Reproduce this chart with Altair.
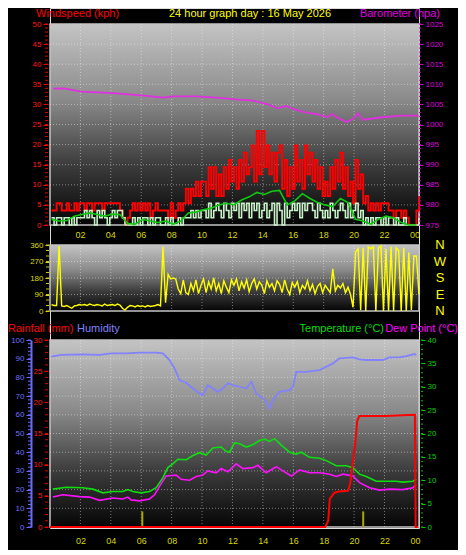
import altair as alt
import pandas as pd

# ---------------- data ----------------
TITLE = "24 hour graph day : 16 May 2026"

# 10-minute wind readings starting 00:06 (kph / degrees)
gust_kph = [
    3.6, 3.6, 5.4, 5.4, 3.6, 3.6,
    5.4, 3.6, 3.6, 5.4, 3.6, 5.4,
    5.4, 3.6, 5.4, 5.4, 3.6, 5.4,
    5.4, 5.4, 3.6, 5.4, 5.4, 5.4,
    5.4, 5.4, 5.4, 3.6, 1.8, 0.0,
    1.8, 3.6, 5.4, 3.6, 5.4, 3.6,
    5.4, 3.6, 5.4, 1.8, 3.6, 5.4,
    3.6, 3.6, 3.6, 3.6, 1.8, 5.4,
    1.8, 3.6, 5.4, 3.6, 5.4, 9.0,
    5.4, 9.0, 7.2, 10.8, 7.2, 10.8,
    10.8, 7.2, 14.4, 9.0, 14.4, 7.2,
    12.6, 7.2, 14.4, 9.0, 16.2, 10.8,
    14.4, 9.0, 16.2, 10.8, 18.0, 12.6,
    14.4, 19.8, 10.8, 23.4, 12.6, 23.4,
    14.4, 19.8, 12.6, 18.0, 10.8, 18.0,
    19.8, 9.0, 16.2, 7.2, 14.4, 9.0,
    19.8, 10.8, 16.2, 9.0, 19.8, 12.6,
    18.0, 10.8, 16.2, 9.0, 14.4, 7.2,
    10.8, 7.2, 14.4, 9.0, 16.2, 10.8,
    18.0, 9.0, 14.4, 7.2, 10.8, 5.4,
    16.2, 9.0, 12.6, 5.4, 7.2, 3.6,
    5.4, 3.6, 5.4, 3.6, 5.4, 5.4,
    5.4, 3.6, 3.6, 1.8, 3.6, 3.6,
    1.8, 3.6, 1.8, 0.0, 0.0, 0.0,
    3.6, 7.2,
]
speed_kph = [
    1.8, 0.0, 1.8, 1.8, 0.0, 1.8,
    1.8, 0.0, 1.8, 0.0, 1.8, 1.8,
    1.8, 3.6, 1.8, 3.6, 1.8, 0.0,
    3.6, 1.8, 3.6, 1.8, 0.0, 1.8,
    3.6, 1.8, 3.6, 3.6, 1.8, 0.0,
    0.0, 0.0, 1.8, 0.0, 1.8, 0.0,
    1.8, 1.8, 0.0, 1.8, 0.0, 1.8,
    1.8, 0.0, 0.0, 1.8, 0.0, 1.8,
    0.0, 0.0, 1.8, 0.0, 1.8, 1.8,
    1.8, 3.6, 1.8, 3.6, 1.8, 3.6,
    3.6, 1.8, 5.4, 1.8, 3.6, 5.4,
    3.6, 1.8, 5.4, 3.6, 1.8, 5.4,
    3.6, 5.4, 1.8, 5.4, 3.6, 5.4,
    1.8, 5.4, 3.6, 5.4, 1.8, 3.6,
    5.4, 1.8, 3.6, 5.4, 0.0, 5.4,
    3.6, 0.0, 5.4, 1.8, 3.6, 5.4,
    3.6, 5.4, 1.8, 5.4, 3.6, 5.4,
    5.4, 3.6, 1.8, 5.4, 3.6, 1.8,
    3.6, 1.8, 5.4, 3.6, 1.8, 3.6,
    5.4, 3.6, 1.8, 5.4, 1.8, 3.6,
    5.4, 1.8, 3.6, 0.0, 1.8, 0.0,
    1.8, 0.0, 1.8, 1.8, 0.0, 1.8,
    0.0, 1.8, 1.8, 0.0, 1.8, 0.0,
    0.0, 1.8, 0.0, 0.0, 0.0, 0.0,
    0.0, 1.8,
]
wind_dir = [
    35, 30, 30, 355, 28, 25,
    30, 22, 15, 28, 30, 35,
    32, 35, 30, 38, 33, 30,
    35, 32, 28, 38, 30, 33,
    35, 30, 38, 32, 15, 5,
    20, 30, 28, 22, 30, 25,
    28, 22, 30, 25, 27, 30,
    35, 28, 350, 45, 200, 175,
    180, 175, 120, 95, 170, 100,
    90, 150, 110, 170, 95, 140,
    175, 100, 160, 120, 180, 110,
    150, 95, 165, 130, 100, 170,
    140, 175, 110, 160, 125, 170,
    105, 150, 175, 120, 160, 140,
    95, 165, 130, 150, 110, 165,
    145, 100, 170, 120, 90, 155,
    130, 160, 100, 140, 120, 165,
    110, 145, 95, 135, 150, 100,
    140, 120, 100, 230, 110, 140,
    125, 150, 100, 130, 90, 20,
    320, 340, 5, 345, 0, 350,
    340, 350, 0, 345, 355, 0,
    340, 0, 350, 0, 345, 330,
    0, 345, 0, 320, 5, 300,
    300, 90,
]
# 30-minute average wind speed starting 00:06
avg_kph = [
    1.4, 1.0, 1.1, 2.2, 2.6, 3.0, 2.6, 2.2, 2.7, 2.6,
    0.4, 0.2, 1.4, 1.0, 0.6, 1.0, 0.2, 1.0, 3.0, 3.2,
    3.8, 4.2, 5.0, 5.4, 5.0, 6.2, 7.0, 8.1, 7.6, 8.4,
    8.6, 5.0, 6.0, 7.8, 6.6, 5.6, 5.0, 4.6, 6.6, 5.6,
    1.4, 1.0, 0.2, 1.4, 2.2, 1.8, 0.6, 0.0, 0.0,
]

baro_t = [0.21, 0.90, 2.09, 4.13, 6.17, 7.46, 8.11, 9.61, 11.12, 12.41,
          13.27, 14.34, 14.99, 15.53, 16.06, 16.71, 17.57, 18.22, 18.54, 18.86,
          19.50, 19.94, 20.26, 20.58, 21.87, 23.16, 24.24]
baro_hpa = [1008.9, 1009.0, 1008.2, 1007.8, 1007.2, 1006.7, 1007.0, 1007.0, 1006.6, 1006.2,
            1006.0, 1005.0, 1004.0, 1004.6, 1003.8, 1003.1, 1002.6, 1001.8, 1002.6, 1001.8,
            1000.6, 1001.4, 1002.8, 1001.2, 1001.8, 1002.2, 1002.2]

hum_t = [0.08, 0.73, 2.16, 3.26, 4.02, 5.01, 5.89, 6.98, 7.42, 7.86,
         8.19, 8.52, 8.96, 9.40, 9.84, 10.05, 10.38, 10.71, 11.04, 11.37,
         11.70, 12.03, 12.47, 12.91, 13.24, 13.56, 14.00, 14.22, 14.44, 14.66,
         15.10, 15.76, 15.98, 16.20, 16.85, 17.73, 18.17, 18.61, 19.04, 19.92,
         20.36, 20.80, 21.89, 22.33, 22.99, 23.43, 23.98, 24.09]
hum_pct = [91.1, 92.0, 92.3, 92.0, 92.9, 92.9, 93.2, 93.2, 92.9, 89.3,
           84.8, 78.6, 77.1, 74.1, 71.4, 70.5, 75.9, 74.1, 72.3, 74.1,
           76.8, 75.9, 75.0, 74.1, 77.7, 71.4, 68.8, 67.0, 63.4, 67.9,
           72.3, 73.2, 75.0, 83.0, 83.0, 83.9, 85.7, 87.5, 90.2, 90.7,
           89.6, 89.3, 89.3, 90.7, 90.7, 91.4, 92.5, 92.0]

temp_t = [0.19, 1.06, 2.16, 2.82, 3.48, 4.13, 4.79, 5.12, 5.45, 6.00,
          6.55, 6.98, 7.42, 7.75, 8.08, 8.41, 8.96, 9.40, 9.84, 10.27,
          10.71, 11.26, 11.59, 11.81, 12.14, 12.47, 12.91, 13.34, 13.78, 14.11,
          14.44, 14.77, 15.21, 15.76, 16.20, 16.53, 17.07, 17.73, 18.17, 18.83,
          19.49, 19.92, 20.36, 20.80, 21.46, 22.11, 22.77, 23.21, 23.87, 24.09]
temp_c = [8.1, 8.5, 8.4, 8.1, 7.3, 7.6, 7.6, 8.0, 7.6, 7.3,
          7.6, 8.4, 10.5, 12.7, 13.5, 14.5, 14.4, 15.3, 15.9, 15.4,
          16.9, 17.1, 16.2, 16.0, 18.0, 17.8, 17.1, 17.6, 18.5, 18.8,
          18.3, 18.9, 17.5, 16.0, 15.6, 16.0, 14.9, 14.7, 14.2, 13.1,
          13.1, 12.7, 11.3, 10.8, 9.8, 9.8, 9.8, 9.6, 9.8, 10.2]

dew_t = [0.19, 0.84, 1.94, 2.60, 3.26, 4.13, 4.79, 5.12, 5.34, 5.89,
         6.55, 6.88, 7.20, 7.64, 8.30, 8.63, 9.18, 9.62, 10.05, 10.38,
         10.93, 11.26, 11.70, 12.25, 12.69, 13.34, 13.67, 14.22, 14.88, 15.32,
         15.87, 16.42, 17.07, 17.73, 18.39, 18.83, 19.26, 19.92, 20.36, 21.02,
         21.68, 22.33, 23.21, 23.87, 24.09]
dew_c = [6.4, 6.9, 6.5, 6.4, 5.7, 6.2, 6.0, 6.4, 5.8, 5.6,
         6.0, 6.9, 8.7, 10.9, 11.1, 10.2, 10.0, 10.8, 11.1, 12.0,
         11.6, 12.5, 11.8, 13.5, 12.5, 12.7, 13.2, 11.6, 12.9, 12.0,
         10.9, 12.2, 11.6, 11.6, 11.3, 10.8, 11.3, 10.9, 9.5, 8.4,
         7.9, 8.1, 8.0, 8.4, 9.1]

rain_t = [0.0, 18.1, 18.3, 18.4, 18.55, 18.7, 19.0, 19.6, 19.75, 19.9,
          20.1, 20.2, 20.35, 22.0, 24.0, 24.05, 24.2]
rain_mm = [0.0, 0.0, 1.0, 4.5, 5.0, 5.5, 5.7, 5.8, 7.0, 10.0,
           14.0, 17.0, 17.8, 17.8, 18.0, 0.0, 0.0]

rate_t = [6.07, 20.6]
rate_mm = [2.5, 2.5]

hour_ticks = [2, 4, 6, 8, 10, 12, 14, 16, 18, 20, 22, 24]
hour_labels = ["02", "04", "06", "08", "10", "12", "14", "16", "18", "20", "22", "00"]
dir_ticks = [0, 90, 180, 270, 360]
dir_names = ["N", "E", "S", "W", "N"]

# ---------------- tables ----------------
t10 = [round(0.1 + i / 6, 3) for i in range(len(gust_kph))]
wind_df = pd.DataFrame({"t": t10, "gust": gust_kph, "speed": speed_kph, "dir": wind_dir})
avg_df = pd.DataFrame({"t": [round(0.1 + 0.5 * i, 2) for i in range(len(avg_kph))], "avg": avg_kph})
baro_df = pd.DataFrame({"t": baro_t, "v": baro_hpa})
hum_df = pd.DataFrame({"t": hum_t, "v": hum_pct})
temp_df = pd.DataFrame({"t": temp_t, "v": temp_c})
dew_df = pd.DataFrame({"t": dew_t, "v": dew_c})
rain_df = pd.DataFrame({"t": rain_t, "v": rain_mm})
rate_df = pd.DataFrame({"t": rate_t, "v": rate_mm})
hours_df = pd.DataFrame({"h": hour_ticks, "lab": hour_labels})
vgrid_df = pd.DataFrame({"h": hour_ticks[:-1]})
dirlab_df = pd.DataFrame({"v": dir_ticks, "lab": dir_names})
one = pd.DataFrame({"a": [0]})

# ---------------- geometry / style ----------------
W, H = 369, 520
XMAX = 24.27
TOP = [217, 16]
MID = [303, 237]
BOT = [519, 332]
FONT = "Liberation Sans"

grad = alt.Gradient(
    gradient="linear", x1=0, x2=0, y1=0, y2=1,
    stops=[alt.GradientStop(color="#c4c4c4", offset=0),
           alt.GradientStop(color="#8a8a8a", offset=0.38),
           alt.GradientStop(color="#3c3c3c", offset=0.7),
           alt.GradientStop(color="#050505", offset=1)])
gridstyle = dict(color="#f4f4f4", strokeDash=[1, 2], strokeWidth=1, opacity=0.45)

xs = alt.Scale(domain=[0, XMAX], nice=False, zero=False)
xax = alt.Axis(values=hour_ticks,
               labelExpr="datum.value == 24 ? '00' : (datum.value < 10 ? '0' + datum.value : '' + datum.value)",
               labelColor="#d8d800", labelFontSize=9, labelPadding=8, domain=False,
               ticks=False, grid=False, title=None, labelFlush=False, labelFont=FONT)


def X(f):
    return alt.X(f, type="quantitative", scale=xs, axis=xax)


def XD(v):
    return alt.XDatum(v, type="quantitative", scale=xs, axis=xax)


def yaxis(orient, values, color, labelcolor, offset, tick=4, **kw):
    return alt.Axis(orient=orient, values=values, tickColor=color, labelColor=labelcolor,
                    tickSize=tick, offset=offset, domain=kw.pop("domain", False), grid=False,
                    title=None, labelFontSize=8, labelPadding=2, labelFlush=False,
                    labelOverlap=False, labelFont=FONT, format="d", **kw)


class Panel:
    def __init__(self, domain, rng, axis):
        self.scale = alt.Scale(domain=domain, range=rng, nice=False, zero=False)
        self.axis = axis
        self.lo, self.hi = domain

    def Y(self, f):
        return alt.Y(f, type="quantitative", scale=self.scale, axis=self.axis)

    def YD(self, v):
        return alt.YDatum(v, type="quantitative", scale=self.scale, axis=self.axis)

    def background(self):
        return alt.Chart(one).mark_rect(fill=grad, stroke="#c4c4c4", strokeWidth=1.5).encode(
            x=XD(0), x2=alt.X2Datum(XMAX), y=self.YD(self.hi), y2=alt.Y2Datum(self.lo))

    def hgrid(self, values):
        return alt.Chart(pd.DataFrame({"v": values})).mark_rule(**gridstyle).encode(
            x=XD(0), x2=alt.X2Datum(XMAX), y=self.Y("v"))

    def vgrid(self):
        return alt.Chart(vgrid_df).mark_rule(**gridstyle).encode(
            x=X("h"), y=self.YD(self.hi), y2=alt.Y2Datum(self.lo))

    def minor(self, values, x0, x1, color):
        return alt.Chart(pd.DataFrame({"v": values})).mark_rule(color=color, strokeWidth=1).encode(
            y=self.Y("v"), x=alt.value(x0), x2=alt.value(x1))


# ---------------- top panel: wind + barometer ----------------
wind = Panel([0, 50], TOP, yaxis("left", list(range(0, 51, 5)), "#ff0000", "#ff1a1a", 2, tick=5))
wind_layer = alt.layer(
    wind.background(),
    wind.hgrid(list(range(5, 50, 5))),
    wind.vgrid(),
    wind.minor(list(range(0, 51)), -5, -2, "#dd0000"),
    alt.Chart(wind_df).mark_line(color="#ff0000", strokeWidth=1.9, interpolate="step-after").encode(
        x=X("t"), y=wind.Y("gust")),
    alt.Chart(wind_df).mark_line(color="#c8f2c8", strokeWidth=1.6, interpolate="step-after").encode(
        x=X("t"), y=wind.Y("speed")),
    alt.Chart(avg_df).mark_line(color="#10c810", strokeWidth=1.6).encode(
        x=X("t"), y=wind.Y("avg")),
)

baro = Panel([975, 1025], TOP, yaxis("right", list(range(975, 1026, 5)), "#cc00cc", "#dd00dd", 0))
baro_layer = alt.layer(
    baro.minor(list(range(975, 1026)), W, W + 2, "#bb00bb"),
    alt.Chart(baro_df).mark_line(color="#e030e0", strokeWidth=1.8).encode(
        x=X("t"), y=baro.Y("v")),
)

# ---------------- middle panel: wind direction ----------------
wdir = Panel([0, 360], MID, yaxis("left", dir_ticks, "#dddd00", "#dddd00", 1))
dir_layer = alt.layer(
    wdir.background(),
    wdir.hgrid([90, 180, 270]),
    wdir.vgrid(),
    wdir.minor(list(range(0, 361, 30)), -4, -1, "#cccc00"),
    alt.Chart(wind_df).mark_line(color="#ffff00", strokeWidth=1.4).encode(
        x=X("t"), y=wdir.Y("dir")),
    alt.Chart(dirlab_df).mark_text(color="#ffff00", fontSize=13, font=FONT, align="center",
                                   baseline="middle").encode(
        x=alt.value(W + 21), y=wdir.Y("v"), text="lab:N"),
)

# ---------------- bottom panel: humidity, rain, temperature ----------------
hum = Panel([0, 100], BOT, yaxis("left", list(range(0, 101, 10)), "#6a6aff", "#7070ff", 19,
                                 tick=5, domain=True, domainColor="#6a6aff", domainWidth=2))
hum_layer = alt.layer(
    hum.background(),
    hum.hgrid(list(range(10, 100, 10))),
    hum.vgrid(),
    hum.minor(list(range(0, 101, 2)), -22, -19, "#6a6aff"),
    alt.Chart(hum_df).mark_line(color="#8282ff", strokeWidth=1.8).encode(
        x=X("t"), y=hum.Y("v")),
)

temp = Panel([0, 40], BOT, yaxis("right", list(range(0, 41, 5)), "#00cc00", "#00cc00", 2))
temp_layer = alt.layer(
    temp.minor(list(range(0, 41)), W + 2, W + 4, "#00bb00"),
    alt.Chart(temp_df).mark_line(color="#10dd10", strokeWidth=1.6).encode(
        x=X("t"), y=temp.Y("v")),
    alt.Chart(dew_df).mark_line(color="#ff10ff", strokeWidth=1.6).encode(
        x=X("t"), y=temp.Y("v")),
)

rain = Panel([0, 30], BOT, yaxis("left", list(range(0, 31, 5)), "#ff0000", "#ff1a1a", 2))
rain_layer = alt.layer(
    rain.minor(list(range(0, 31)), -5, -2, "#dd0000"),
    alt.Chart(rate_df).mark_rule(color="#a8a800", strokeWidth=2).encode(
        x=X("t"), y=rain.Y("v"), y2=alt.Y2Datum(0)),
    alt.Chart(rain_df).mark_line(color="#ff0000", strokeWidth=2).encode(
        x=X("t"), y=rain.Y("v")),
)

# ---------------- texts ----------------
top_hours = alt.Chart(hours_df).mark_text(color="#d8d800", fontSize=9, font=FONT, baseline="middle").encode(
    x=X("h"), y=alt.value(227), text="lab:N")


def label(txt, x, y, color, align="left"):
    return alt.Chart(one).mark_text(color=color, fontSize=11, font=FONT, align=align,
                                    baseline="alphabetic").encode(
        x=alt.value(x), y=alt.value(y), text=alt.value(txt))


texts = [
    label("Windspeed (kph)", -14, 9, "#ff0000"),
    label(TITLE, 200, 9, "#ffff00", "center"),
    label("Barometer (hpa)", 390, 9, "#e000e0", "right"),
    label("Rainfall (mm)", -42, 324, "#ff0000"),
    label("Humidity", 27, 324, "#8080ff"),
    label("Temperature (°C)", 334, 324, "#00dd00", "right"),
    label("Dew Point (°C)", 408, 324, "#ff00ff", "right"),
]

chart = alt.layer(
    wind_layer, baro_layer, dir_layer, hum_layer, temp_layer, rain_layer, top_hours, *texts
).resolve_scale(y="independent").properties(
    width=W, height=H,
    autosize=alt.AutoSizeParams(type="none"),
    padding={"left": 42, "top": 0, "right": 39, "bottom": 22},
    background="#000000",
).configure_view(stroke=None).configure(font=FONT)

chart.save("out.html", embed_options={"renderer": "svg", "actions": False})
